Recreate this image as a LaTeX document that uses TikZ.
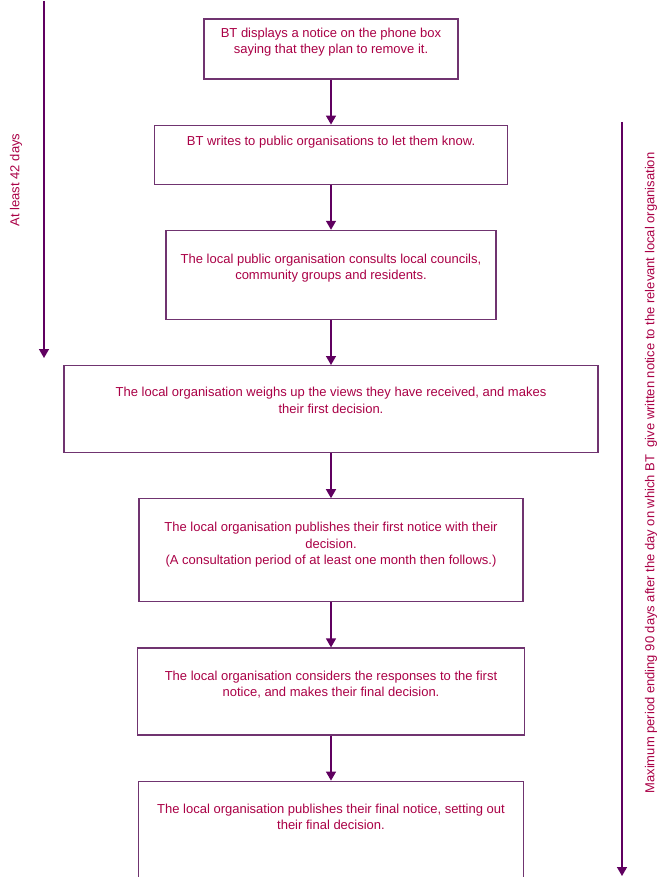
\documentclass[tikz,border=0pt]{standalone}
\usepackage{fontspec}
\setmainfont{Liberation Sans}
\definecolor{boxpurple}{RGB}{112,52,112}
\definecolor{arrowpurple}{RGB}{96,0,96}
\definecolor{notered}{RGB}{170,0,70}
\newcommand{\ncolor}{\color{notered}}
\usetikzlibrary{arrows.meta,positioning}
\tikzset{
	stepbox/.style={
		rectangle,
		draw=boxpurple,
		line width=1.2pt,
		fill=white,
		inner sep=0pt,
	},
	steptext/.style={
		align=center,
		inner sep=0pt,
		font=\fontsize{13}{16.5}\selectfont\ncolor,
	},
	link/.style={
		-{Triangle[width=10pt,length=9pt]},
		line width=1.4pt,
		draw=arrowpurple,
	},
	periodtext/.style={
		rotate=90,
		inner sep=0pt,
		font=\fontsize{13}{16.5}\selectfont\ncolor,
	},
}

\begin{document}
\begin{tikzpicture}[x=1pt,y=1pt,node distance=45pt]
	\useasboundingbox (0,0) rectangle (661,-877);
	\clip (0,0) rectangle (661,-877);

	% the steps, top to bottom
	\node[stepbox,minimum width=254pt,minimum height=60pt] (b1) at (331,-49) {};
	\node[stepbox,minimum width=353pt,minimum height=59pt,below=of b1] (b2) {};
	\node[stepbox,minimum width=330pt,minimum height=89pt,below=of b2] (b3) {};
	\node[stepbox,minimum width=534pt,minimum height=87pt,below=of b3] (b4) {};
	\node[stepbox,minimum width=384pt,minimum height=103pt,below=of b4] (b5) {};
	\node[stepbox,minimum width=387pt,minimum height=87pt,below=of b5] (b6) {};
	\node[stepbox,minimum width=385pt,minimum height=108pt,below=of b6] (b7) {};

	\node[steptext,below=9pt of b1.north] (t1) {BT displays a notice on the phone box\\saying that they plan to remove it.};
	\node[steptext,below=11pt of b2.north] (t2) {BT writes to public organisations to let them know.};
	\node[steptext,below=24pt of b3.north] (t3) {The local public organisation consults local councils,\\community groups and residents.};
	\node[steptext,below=22pt of b4.north] (t4) {The local organisation weighs up the views they have received, and makes\\their first decision.};
	\node[steptext,below=24pt of b5.north] (t5) {The local organisation publishes their first notice with their\\decision.\\(A consultation period of at least one month then follows.)};
	\node[steptext,below=23pt of b6.north] (t6) {The local organisation considers the responses to the first\\notice, and makes their final decision.};
	\node[steptext,below=23pt of b7.north] (t7) {The local organisation publishes their final notice, setting out\\their final decision.};

	\draw[link] (b1) -- (b2);
	\draw[link] (b2) -- (b3);
	\draw[link] (b3) -- (b4);
	\draw[link] (b4) -- (b5);
	\draw[link] (b5) -- (b6);
	\draw[link] (b6) -- (b7);

	% time periods at the sides
	\coordinate (lstart) at (44,-1);
	\coordinate (lend) at (44,-358);
	\coordinate (rstart) at (622,-122);
	\coordinate (rend) at (622,-876);
	\draw[link] (lstart) -- (lend);
	\draw[link] (rstart) -- (rend);
	\node[periodtext] (lmin) at (16,-180) {At least 42 days};
	\node[periodtext] (rmax) at (651,-473) {Maximum period ending 90 days after the day on which BT\ \ give written notice to the relevant local organisation};
\end{tikzpicture}
\end{document}
